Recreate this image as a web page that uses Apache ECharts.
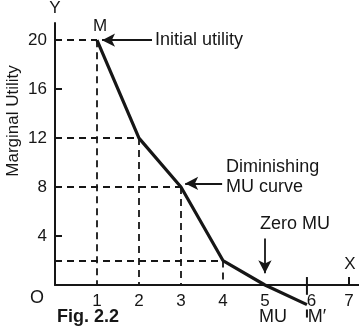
<!DOCTYPE html>
<html>
<head>
<meta charset="utf-8">
<script src="https://cdn.jsdelivr.net/npm/echarts@6/dist/echarts.min.js"></script>
<style>
  html, body { margin: 0; padding: 0; background: #fff; }
  #chart { width: 359px; height: 334px; }
</style>
</head>
<body>
<div id="chart"></div>
<script>
// Units consumed and the marginal utility of each unit
const units = [1, 2, 3, 4, 5, 6];
const marginalUtility = [20, 12, 8, 2, 0, -1.6];

// Axis tick labels
const xTickValues = [1, 2, 3, 4, 5, 6, 7];
const yTickValues = [4, 8, 12, 16, 20];

const INK = '#161616';
const FONT = '"Liberation Sans", Arial, sans-serif';

const curve = units.map((u, i) => [u, marginalUtility[i]]);

// Dashed guides from each positive point to both axes
const guides = [];
curve.forEach(([x, y]) => {
  if (y > 0) {
    guides.push([{ coord: [0, y] }, { coord: [x, y] }]);
    guides.push([{ coord: [x, y] }, { coord: [x, 0] }]);
  }
});
const dashed = { type: [7, 5], width: 1.8, color: INK };
guides.forEach(g => { g[0].lineStyle = dashed; });

const solidThin = { type: 'solid', width: 1.8, color: INK };
const arrowEnd = (c) => ({ coord: c, symbol: 'arrow', symbolSize: [10, 13] });

// Pointer arrows for the annotations
const arrows = [
  [{ coord: [2.31, 20], symbol: 'none', lineStyle: solidThin }, arrowEnd([1.12, 20])],
  [{ coord: [3.98, 8.3], symbol: 'none', lineStyle: solidThin }, arrowEnd([3.1, 8.3])],
  [{ coord: [5, 3.8], symbol: 'none', lineStyle: solidThin }, arrowEnd([5, 0.95])]
];

const chart = echarts.init(document.getElementById('chart'), null, { renderer: 'canvas' });

const option = {
  backgroundColor: '#fff',
  animation: false,
  grid: { left: 55, right: 0, top: 20, bottom: 49 },
  xAxis: {
    type: 'value',
    min: 0,
    max: 7.24,
    interval: 1,
    splitLine: { show: false },
    axisLine: { lineStyle: { color: INK, width: 2 } },
    axisTick: { customValues: [7], inside: true, length: 8, lineStyle: { color: INK, width: 2 } },
    axisLabel: {
      customValues: xTickValues,
      color: INK,
      fontFamily: FONT,
      fontSize: 17,
      margin: 8,
      formatter: v => (v === 6 ? '{s|6}' : String(v)),
      rich: { s: { padding: [0, 0, 0, 9], fontSize: 17, fontFamily: FONT, color: INK } }
    }
  },
  yAxis: {
    type: 'value',
    min: 0,
    max: 21.4,
    interval: 4,
    name: 'Y',
    nameLocation: 'end',
    nameGap: 6,
    nameTextStyle: { color: INK, fontFamily: FONT, fontSize: 17, align: 'center' },
    splitLine: { show: false },
    axisLine: { lineStyle: { color: INK, width: 2 } },
    axisTick: { customValues: yTickValues, inside: true, length: 7, lineStyle: { color: INK, width: 2 } },
    axisLabel: {
      customValues: yTickValues,
      color: INK,
      fontFamily: FONT,
      fontSize: 17,
      margin: 8
    }
  },
  series: [{
    type: 'line',
    data: curve,
    clip: false,
    symbol: 'none',
    lineStyle: { color: INK, width: 3.2 },
    z: 5,
    markLine: {
      silent: true,
      symbol: ['none', 'none'],
      label: { show: false },
      animation: false,
      data: guides.concat(arrows)
    }
  }]
};

chart.setOption(option);

const px = (x, y) => chart.convertToPixel({ gridIndex: 0 }, [x, y]);
const txt = (p, dx, dy, text, extra) => ({
  type: 'text',
  x: p[0] + dx,
  y: p[1] + dy,
  style: Object.assign({
    text: text,
    fill: INK,
    font: '18px ' + FONT,
    align: 'left',
    verticalAlign: 'middle'
  }, extra || {})
});

// Tick through the axis at unit 6, broken where the curve ends
const seg = (a, b) => {
  const p = px(a[0], a[1]);
  const q = px(b[0], b[1]);
  return {
    type: 'line',
    shape: { x1: p[0], y1: p[1], x2: q[0], y2: q[1] },
    style: { stroke: INK, lineWidth: 2 },
    z: 4
  };
};

const pM = px(units[0], marginalUtility[0]);
const pInit = px(2.31, 20);
const pDim = px(3.98, 8.3);
const pZero = px(5, 3.8);
const pO = px(0, 0);
const p5 = px(5, 0);
const p6 = px(6, 0);
const p7 = px(7, 0);

chart.setOption({
  graphic: [
    seg([6, 0.65], [6, -0.8]),
    seg([6, -2.0], [6, -2.66]),
    txt(pM, 3, -14, 'M', { align: 'center', font: '17px ' + FONT }),
    txt(pInit, 3, 0, 'Initial utility'),
    txt(pDim, 4, -16, 'Diminishing'),
    txt(pDim, 4, 4, 'MU curve'),
    txt(pZero, -5, -14, 'Zero MU'),
    txt(p7, 1, -21, 'X', { align: 'center', font: '17px ' + FONT }),
    txt(pO, -18, 13, 'O', { align: 'center' }),
    txt(p5, 8, 32, 'MU', { align: 'center' }),
    txt(p6, 10, 32, 'M\u2032', { align: 'center' }),
    txt(pO, 2, 32, 'Fig. 2.2', { font: 'bold 18px ' + FONT }),
    {
      type: 'text',
      x: 13,
      y: 121,
      rotation: Math.PI / 2,
      style: {
        text: 'Marginal Utility',
        fill: INK,
        font: '17px ' + FONT,
        align: 'center',
        verticalAlign: 'middle'
      }
    }
  ]
});
</script>
</body>
</html>
